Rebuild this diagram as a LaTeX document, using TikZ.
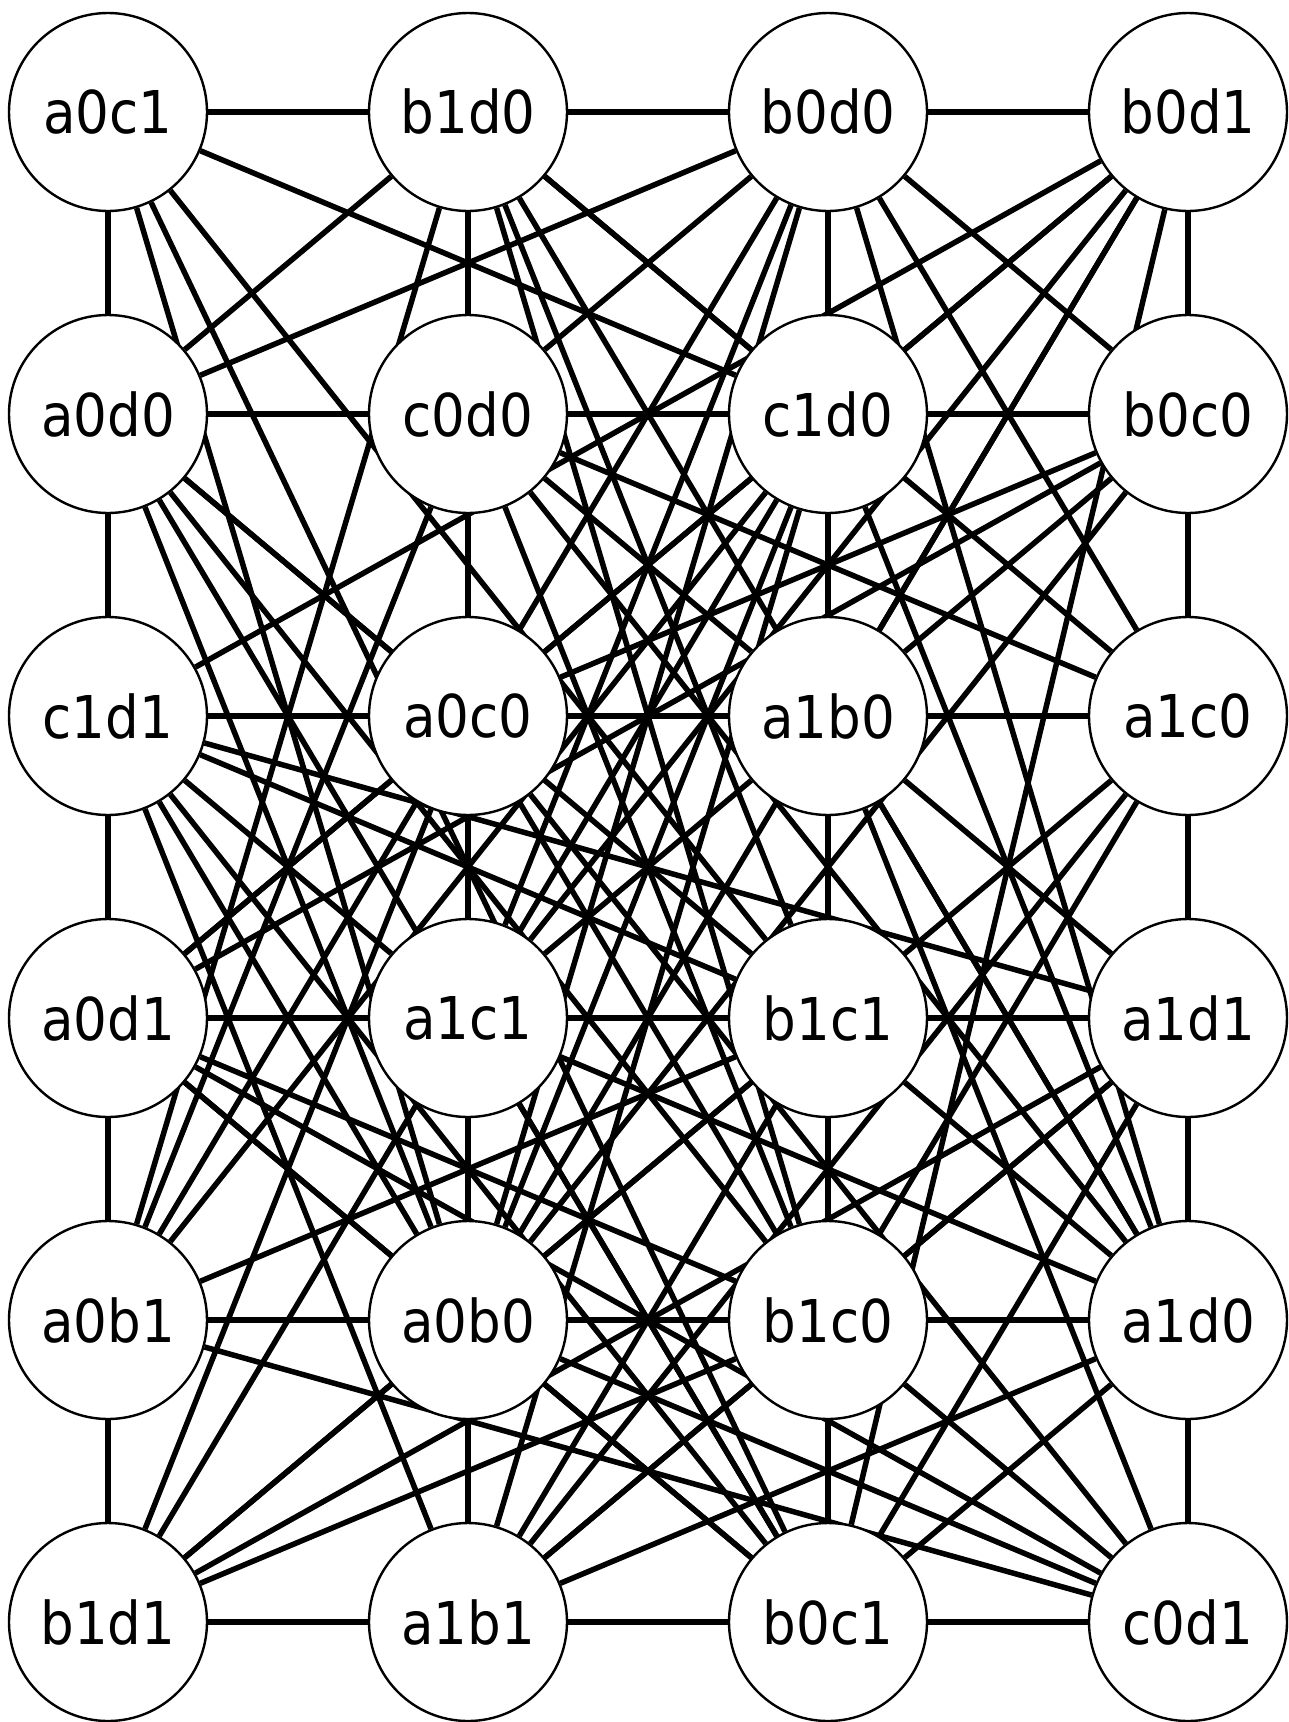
\documentclass[tikz,border=0pt]{standalone}
\usepackage{fontspec}
\newfontfamily\statefont[FakeStretch=0.9]{DejaVu Sans}
\usepackage{tikz}
\usetikzlibrary{arrows,automata}
\usetikzlibrary{positioning}
\usetikzlibrary{backgrounds}

\begin{document}
\begin{tikzpicture}[scale=1,-,auto,node distance=360pt, every edge/.append style={line width=5.5pt}]
		\tikzstyle{every state}=[fill=white, draw=black, text=black, minimum size=198pt, line width=2.4pt, font=\statefont\fontsize{59}{64}\selectfont]
		\useasboundingbox (-108pt,112pt) rectangle (1181pt,-1610pt);
			\node[state]  (a0c1) {a0c1};
			\node[state]  (b1d0) [right of=a0c1]{b1d0};
			\node[state]  (b0d0) [right of=b1d0]{b0d0};
			\node[state]  (b0d1) [right of=b0d0]{b0d1};
			\node[state]  (a0d0) [below of=a0c1, node distance=302pt]{a0d0};
			\node[state]  (c0d0) [right of=a0d0]{c0d0};
			\node[state]  (c1d0) [right of=c0d0]{c1d0};
			\node[state]  (b0c0) [right of=c1d0]{b0c0};
			\node[state]  (c1d1) [below of=a0d0, node distance=302pt]{c1d1};
			\node[state]  (a0c0) [right of=c1d1]{a0c0};
			\node[state]  (a1b0) [right of=a0c0]{a1b0};
			\node[state]  (a1c0) [right of=a1b0]{a1c0};
			\node[state]  (a0d1) [below of=c1d1, node distance=302pt]{a0d1};
			\node[state]  (a1c1) [right of=a0d1]{a1c1};
			\node[state]  (b1c1) [right of=a1c1]{b1c1};
			\node[state]  (a1d1) [right of=b1c1]{a1d1};
			\node[state]  (a0b1) [below of=a0d1, node distance=302pt]{a0b1};
			\node[state]  (a0b0) [right of=a0b1]{a0b0};
			\node[state]  (b1c0) [right of=a0b0]{b1c0};
			\node[state]  (a1d0) [right of=b1c0]{a1d0};
			\node[state]  (b1d1) [below of=a0b1, node distance=302pt]{b1d1};
			\node[state]  (a1b1) [right of=b1d1]{a1b1};
			\node[state]  (b0c1) [right of=a1b1]{b0c1};
			\node[state]  (c0d1) [right of=b0c1]{c0d1};
		\begin{scope}[on background layer]
			\path
				(a0c1) edge (b1d0) edge (b0d0) edge (b0d1) edge (a0d0) edge (c1d0) edge (c1d1) edge (a0d1) edge (b1c1) edge (a0b1) edge (a0b0) edge (b1d1) edge (b0c1)
				(b1d0) edge (a0d0) edge (c0d0) edge (c1d0) edge (a0c0) edge (a1c0) edge (a1c1) edge (b1c1) edge (a0b1) edge (b1c0) edge (a1d0) edge (a1b1)
				(b0d0) edge (a0d0) edge (c0d0) edge (c1d0) edge (b0c0) edge (a0c0) edge (a1b0) edge (a1c0) edge (a1c1) edge (a0b0) edge (a1d0) edge (b0c1)
				(b0d1) edge (b0c0) edge (c1d1) edge (a0c0) edge (a1b0) edge (a1c0) edge (a0d1) edge (a1c1) edge (a1d1) edge (a0b0) edge (b0c1) edge (c0d1)
				(a0d0) edge (c0d0) edge (c1d0) edge (b0c0) edge (a0c0) edge (b1c1) edge (a0b1) edge (a0b0) edge (b1c0) edge (b0c1)
				(c0d0) edge (b0c0) edge (a0c0) edge (a1b0) edge (a1c0) edge (a0b1) edge (a0b0) edge (b1c0) edge (a1d0) edge (a1b1)
				(c1d0) edge (a1b0) edge (a1c1) edge (b1c1) edge (a0b1) edge (a0b0) edge (a1d0) edge (a1b1) edge (b0c1)
				(b0c0) edge (a0c0) edge (a1b0) edge (a1c0) edge (a0d1) edge (a1d1) edge (a0b0) edge (a1d0) edge (c0d1)
				(c1d1) edge (a1b0) edge (a0d1) edge (a1c1) edge (b1c1) edge (a1d1) edge (a0b1) edge (a0b0) edge (b1d1) edge (a1b1) edge (b0c1)
				(a0c0) edge (a0d1) edge (a0b1) edge (a0b0) edge (b1c0) edge (b1d1) edge (c0d1)
				(a1b0) edge (a1c0) edge (a1c1) edge (a1d1) edge (a1d0) edge (b0c1) edge (c0d1)
				(a1c0) edge (a1d1) edge (b1c0) edge (a1d0) edge (b1d1) edge (a1b1) edge (c0d1)
				(a0d1) edge (b1c1) edge (a0b1) edge (a0b0) edge (b1c0) edge (b1d1) edge (b0c1) edge (c0d1)
				(a1c1) edge (b1c1) edge (a1d1) edge (a1d0) edge (b1d1) edge (a1b1) edge (b0c1)
				(b1c1) edge (a1d1) edge (a0b1) edge (a1d0) edge (b1d1) edge (a1b1)
				(a1d1) edge (b1c0) edge (b1d1) edge (a1b1) edge (b0c1) edge (c0d1)
				(a0b1) edge (b1c0) edge (b1d1) edge (c0d1)
				(a0b0) edge (b0c1) edge (c0d1)
				(b1c0) edge (a1d0) edge (b1d1) edge (a1b1) edge (c0d1)
				(a1d0) edge (a1b1) edge (b0c1)
				(b1d1) edge (a1b1) edge (c0d1)
				(a1b1) edge (c0d1);
		\end{scope}
\end{tikzpicture}
\end{document}
